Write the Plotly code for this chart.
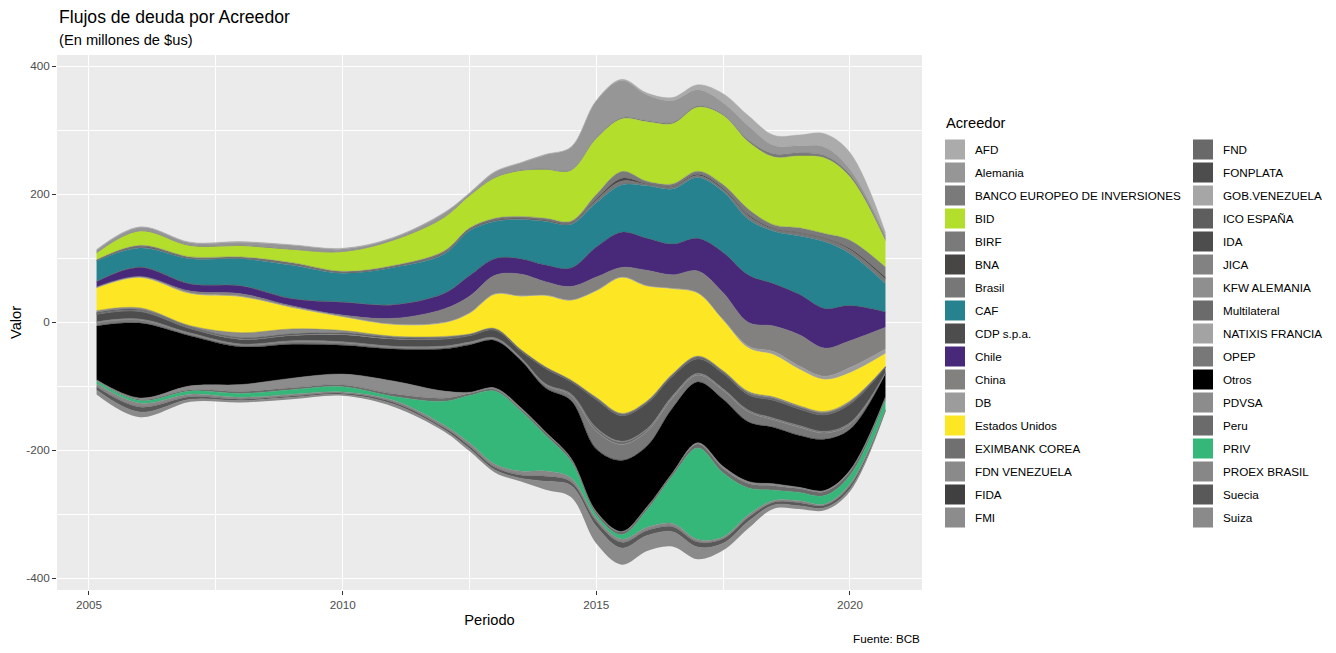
import numpy as np
import plotly.graph_objects as go

# periodo (eje x) donde se leyeron los valores
periodo = [2005.15, 2006, 2007, 2008, 2009, 2010, 2011, 2012, 2012.5, 2013, 2013.5, 2014, 2014.5,
           2015, 2015.5, 2016, 2016.5, 2017, 2017.5, 2018, 2018.5, 2019, 2019.5, 2020, 2020.7]

acreedores = ["AFD", "Alemania", "BANCO EUROPEO DE INVERSIONES", "BID", "BIRF", "BNA", "Brasil", "CAF",
              "CDP s.p.a.", "Chile", "China", "DB", "Estados Unidos", "EXIMBANK COREA", "FDN VENEZUELA",
              "FIDA", "FMI", "FND", "FONPLATA", "GOB.VENEZUELA", "ICO ESPAÑA", "IDA", "JICA", "KFW ALEMANIA",
              "Multilateral", "NATIXIS FRANCIA", "OPEP", "Otros", "PDVSA", "Peru", "PRIV", "PROEX BRASIL",
              "Suecia", "Suiza"]

afd = [1, 1, 1, 1, 1, 1, 1, 1, 1, 1, 1, 1, 1, 1, 2, 3, 5, 8, 14, 16, 16, 17, 21, 26, 5]
alemania = [4, 5, 4, 5, 6, 4, 3, 6, 3, 8, 11, 22, 35, 57, 58, 40, 34, 25, 18, 22, 13, 11, 13, 8, 5]
bei = [1, 1, 1, 1, 1, 1, 1, 1, 1, 1, 1, 1, 1, 2, 2, 2, 2, 2, 2, 3, 5, 5, 4, 4, 3]
bid = [10, 22, 17, 17, 20, 30, 39, 52, 50, 63, 71, 76, 79, 87, 82, 93, 94, 100, 108, 105, 106, 112, 118, 99, 41]
birf = [1, 2, 2, 2, 2, 2, 2, 3, 2, 3, 3, 3, 3, 7, 11, 4, 4, 5, 6, 9, 6, 8, 8, 13, 16]
bna = [0, 1, 0, 0, 1, 0, 0, 1, 1, 1, 1, 1, 1, 2, 4, 1, 1, 2, 2, 2, 1, 1, 1, 2, 3]
brasil = [1, 1, 1, 1, 1, 1, 1, 1, 1, 1, 1, 1, 1, 4, 6, 2, 3, 3, 3, 5, 3, 4, 4, 6, 7]
caf = [32, 30, 39, 42, 52, 45, 58, 61, 70, 58, 61, 68, 68, 69, 74, 82, 86, 95, 95, 87, 82, 91, 104, 81, 44]
cdp = [0.5, 0.5, 0.5, 0.5, 0.5, 0.5, 0.5, 0.5, 0.5, 0, 0, 0, 0, 0, 0, 0, 0, 0, 0, 0, 0, 0, 0, 0, 0]
chile = [8, 14, 11, 12, 11, 20, 21, 24, 32, 26, 24, 26, 29, 47, 55, 50, 48, 51, 63, 74, 66, 63, 62, 55, 24]
china = [1, 1, 3, 4, 2, 2, 9, 21, 26, 29, 34, 21, 21, 21, 15, 24, 21, 34, 42, 37, 40, 49, 44, 42, 34]
db = [1, 1, 1, 1, 1, 1, 1, 1, 1, 1, 1, 1, 1, 1, 1, 1, 1, 1, 1, 3, 5, 5, 5, 8, 7]
eeuu = [35, 47, 50, 56, 33, 21, 18, 21, 32, 53, 82, 111, 124, 166, 212, 179, 133, 98, 79, 68, 66, 57, 50, 44, 20]
exim = [0, 0, 0, 0, 0, 0, 0, 0, 0, 0, 0, 0, 0, 0, 0, 0, 0, 0, 0, 1, 1, 1, 1, 1, 0]
fdn = [3, 3, 2, 8, 8, 4, 2, 2, 1, 1, 1, 1, 1, 2, 2, 2, 2, 2, 2, 2, 2, 2, 2, 2, 1]
fida = [1, 1, 1, 1, 1, 1, 1, 1, 0.5, 0.5, 0.5, 0.5, 0.5, 0.5, 0.5, 0.5, 0.5, 0.5, 0.5, 0.5, 0.5, 0.5, 0.5, 0.5, 0]
fmi = [0.5, 0.5, 0.5, 0, 0, 0, 0, 0, 0, 0, 0, 0, 0, 0, 0, 0, 0, 0, 0, 0, 0, 0, 0, 0, 0]
fnd = [0, 0, 0, 0, 0, 0, 0, 0, 0, 0, 0, 0, 0, 0, 0, 0, 0, 0.5, 0.5, 0.5, 0.5, 0.5, 0.5, 0.5, 0]
fonplata = [1, 1, 1, 1, 1, 1, 1, 1, 1, 1, 1, 1, 1, 1, 1, 1, 1, 1, 1, 1, 1, 1, 1, 1, 0.5]
gob_ven = [0, 0, 0, 0.5, 0.5, 0.5, 0.5, 0, 0, 0, 0, 0, 0, 0, 0, 0, 0, 0, 0, 0, 0, 0, 0, 0, 0]
ico = [0, 0, 0, 0, 0, 0, 0, 0, 0, 0, 0, 0, 0, 0, 0, 0, 0, 0, 0, 0, 0, 0, 0, 0, 0]
ida = [12, 12, 7, 7, 8, 11, 11, 11, 10, 12, 10, 24, 19, 44, 40, 40, 31, 23, 24, 24, 28, 26, 26, 29, 8]
jica = [0.5, 0.5, 0.5, 0.5, 0.5, 0.5, 0.5, 0.5, 0.5, 0.5, 0.5, 0.5, 0.5, 1, 1, 1, 1, 0.5, 0.5, 0.5, 0.5, 0.5, 0.5, 0.5, 0]
kfw = [0, 0, 0, 0, 0, 0, 0, 0, 0, 0, 0, 0, 0, 0, 0, 0, 0, 0, 0, 0, 0, 0, 0, 0, 0]
multilateral = [1, 1, 1, 1, 1, 1, 1, 1, 1, 1, 1, 1, 2, 4, 4, 3, 2, 2, 2, 2, 2, 2, 2, 2, 1]
natixis = [0, 0, 0, 0, 0, 0, 0, 0, 0, 0, 0, 0, 0, 0, 0, 0, 0, 0, 0, 0, 0, 0, 0, 0, 0]
opep = [5, 5, 3, 3, 4, 4, 3, 3, 3, 3, 3, 5, 8, 28, 25, 23, 16, 11, 14, 16, 12, 13, 10, 8, 1]
otros = [84, 117, 78, 59, 53, 45, 50, 66, 74, 74, 74, 69, 90, 98, 111, 95, 101, 95, 105, 93, 88, 81, 80, 64, 36]
pdvsa = [1, 2, 6, 11, 15, 17, 20, 11, 2, 2, 2, 1, 1, 1, 1, 1, 1, 2, 3, 3, 3, 2, 2, 2, 1]
peru = [1, 2, 2, 3, 3, 3, 4, 5, 3, 3, 3, 4, 4, 4, 4, 4, 4, 6, 7, 7, 7, 6, 6, 6, 4]
priv = [4, 4, 5, 6, 7, 8, 6, 37, 74, 114, 95, 56, 26, 5, 7, 27, 74, 143, 100, 42, 16, 13, 13, 13, 15]
proex = [5, 6, 4, 3, 3, 2, 3, 4, 5, 5, 6, 8, 6, 5, 5, 5, 5, 4, 3, 4, 3, 3, 2, 3, 1]
suecia = [5, 8, 4, 2, 2, 2, 3, 3, 4, 4, 5, 8, 6, 8, 9, 8, 8, 8, 7, 6, 4, 5, 4, 5, 1]
suiza = [7, 8, 4, 3, 3, 2, 4, 3, 4, 4, 5, 13, 18, 27, 26, 24, 23, 19, 11, 11, 6, 5, 4, 4, 1]

valores = [afd, alemania, bei, bid, birf, bna, brasil, caf, cdp, chile, china, db, eeuu, exim, fdn,
           fida, fmi, fnd, fonplata, gob_ven, ico, ida, jica, kfw, multilateral, natixis, opep, otros,
           pdvsa, peru, priv, proex, suecia, suiza]

colores = ["#ABABAB", "#969696", "#7A7A7A", "#B4DE2C", "#7A7A7A", "#484545", "#777777", "#26828E",
           "#4D4D4D", "#482878", "#82817F", "#9C9C9C", "#FDE725", "#707070", "#8A8A8A", "#404040",
           "#8C8C8C", "#696969", "#4D4D4D", "#A6A6A6", "#5E5E5E", "#4D4D4D", "#828282", "#8F8F8F",
           "#6B6B6B", "#A3A3A3", "#787878", "#000000", "#8C8C8C", "#6B6B6B", "#35B779", "#878787",
           "#595959", "#8A8A8A"]

FONT = "Liberation Sans, Arial, sans-serif"
W, H = 1328, 645  # la pagina agrega 8 px de margen

fig = go.Figure()

# linea base para centrar el flujo (stream "mirror")
total = np.sum(np.array(valores, dtype=float), axis=0)
fig.add_trace(go.Scatter(x=periodo, y=-total / 2, stackgroup="s", mode="lines",
                         line=dict(width=0, shape="spline", smoothing=1),
                         fillcolor="rgba(0,0,0,0)", showlegend=False, hoverinfo="skip"))

for name, vals, col in reversed(list(zip(acreedores, valores, colores))):
    fig.add_trace(go.Scatter(x=periodo, y=vals, stackgroup="s", mode="lines", name=name,
                             line=dict(width=0.4, shape="spline", smoothing=1, color=col),
                             fillcolor=col, showlegend=False))

# entradas de leyenda (dos columnas)
for i, (name, col) in enumerate(zip(acreedores, colores)):
    fig.add_trace(go.Scatter(x=[None], y=[None], mode="markers", name=name, legendgroup=name,
                             legend="legend" if i < 17 else "legend2",
                             marker=dict(symbol="square", size=16, color=col,
                                         line=dict(width=4, color=col))))

x_ticks = [2005, 2010, 2015, 2020]
y_ticks = [-400, -200, 0, 200, 400]
y_labels = ["-400", "-200", "0", "200", "400"]


def py(pix):
    # pixel vertical de la pagina -> coordenada "paper" (area de trazado entre 55 y 590)
    return (590 - pix) / 535


def px(pix):
    # pixel horizontal de la pagina -> coordenada "paper" (area de trazado entre 57 y 922)
    return (pix - 57) / 865


leg = dict(xref="container", yref="container", xanchor="left", yanchor="top",
           font=dict(size=11.7, color="black"), tracegroupgap=4, traceorder="grouped",
           bgcolor="rgba(0,0,0,0)", maxheight=620)

fig.update_layout(
    width=W, height=H,
    margin=dict(l=49, r=414, t=47, b=63, autoexpand=False),
    paper_bgcolor="white", plot_bgcolor="#EBEBEB",
    font=dict(family=FONT, color="black"),
    xaxis=dict(range=[2004.37, 2021.42], tickvals=x_ticks, ticktext=[str(v) for v in x_ticks],
               showgrid=True, gridcolor="white", gridwidth=1.1, zeroline=False, automargin=False,
               ticks="outside", ticklen=4, tickwidth=1.1, tickcolor="#333333",
               tickfont=dict(size=11.7, color="#4D4D4D"),
               minor=dict(tick0=2002.5, dtick=5, showgrid=True, gridcolor="white", gridwidth=0.55, ticks=""),
               title=dict(text="Periodo", font=dict(size=14.67, color="black"), standoff=4)),
    yaxis=dict(range=[-418.75, 417.2], tickvals=y_ticks, ticktext=y_labels,
               showgrid=True, gridcolor="white", gridwidth=1.1, zeroline=False, automargin=False,
               ticks="outside", ticklen=4, tickwidth=1.1, tickcolor="#333333",
               tickfont=dict(size=11.7, color="#4D4D4D"),
               minor=dict(tick0=100, dtick=200, showgrid=True, gridcolor="white", gridwidth=0.55, ticks=""),
               title=dict(text="Valor", font=dict(size=14.67, color="black"), standoff=3)),
    legend=dict(leg, x=927 / W, y=1 - 127 / H),
    legend2=dict(leg, x=1175 / W, y=1 - 127 / H),
    annotations=[
        dict(text="Flujos de deuda por Acreedor", xref="paper", yref="paper", x=0, y=py(17),
             xanchor="left", yanchor="middle", showarrow=False, font=dict(size=17.6, color="black")),
        dict(text="(En millones de $us)", xref="paper", yref="paper", x=0, y=py(40),
             xanchor="left", yanchor="middle", showarrow=False, font=dict(size=14.67, color="black")),
        dict(text="Fuente: BCB", xref="paper", yref="paper", x=1, y=py(638),
             xanchor="right", yanchor="middle", showarrow=False, font=dict(size=11.7, color="black")),
        dict(text="Acreedor", xref="paper", yref="paper", x=px(944), y=py(123),
             xanchor="left", yanchor="middle", showarrow=False, font=dict(size=14.67, color="black")),
    ],
)

fig.write_html("out.html")
